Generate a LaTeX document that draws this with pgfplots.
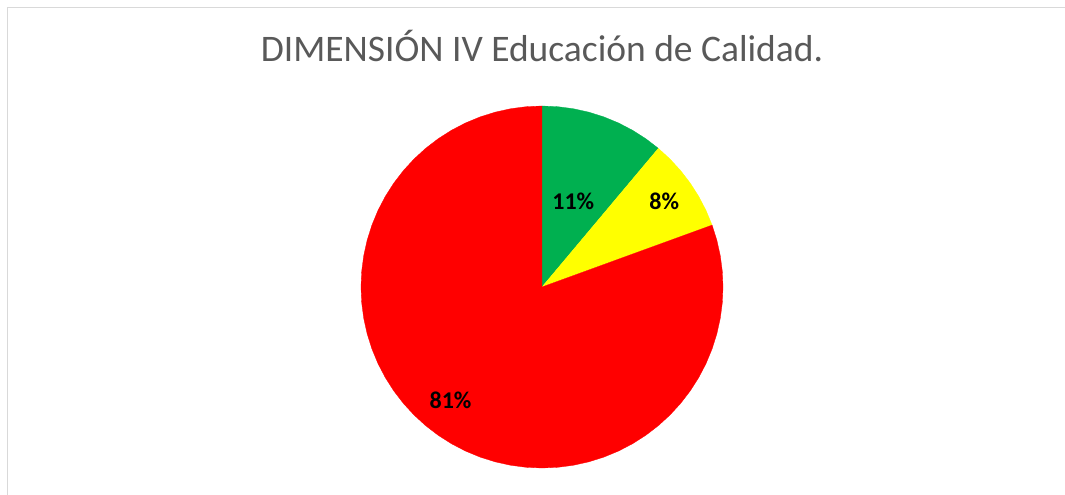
\documentclass[border=0pt]{standalone}
\usepackage{pgfplots}
\pgfplotsset{compat=1.18}
\usepgfplotslibrary{polar}
\usepackage{fontspec}
\setmainfont{Carlito}
\definecolor{cgreen}{HTML}{00B050}
\definecolor{cyellow}{HTML}{FFFF00}
\definecolor{cred}{HTML}{FF0000}
\definecolor{ctitle}{HTML}{595959}
\definecolor{cborder}{HTML}{D9D9D9}
\begin{document}
\begin{tikzpicture}
\path[use as bounding box] (0pt,0pt) rectangle (1065pt,495pt);
\clip (0pt,0pt) rectangle (1065pt,495pt);
\draw[cborder, line width=1.5pt] (7.5pt,-20pt) -- (7.5pt,487.5pt) -- (1090pt,487.5pt);
\begin{polaraxis}[
  at={(542pt,208pt)}, anchor=center,
  width=362pt, height=362pt, scale only axis,
  hide axis, ymin=0, ymax=1, xmin=0, xmax=360,
  clip=false,
]
% green 11% : 90 -> 50
\addplot[fill=cgreen, draw=cgreen, line width=0.3pt] coordinates {
(0,0) (90,1) (85,1) (80,1) (75,1) (70,1) (65,1) (60,1) (55,1) (50,1)};
% yellow 8% : 50 -> 20
\addplot[fill=cyellow, draw=cyellow, line width=0.3pt] coordinates {
(0,0) (50,1) (45,1) (40,1) (35,1) (30,1) (25,1) (20,1)};
% red 81% : 20 -> -270
\addplot[fill=cred, draw=cred, line width=0.3pt] coordinates {
(0,0) (20,1) (15,1) (10,1) (5,1) (0,1) (-5,1) (-10,1) (-15,1) (-20,1) (-25,1) (-30,1)
(-35,1) (-40,1) (-45,1) (-50,1) (-55,1) (-60,1) (-65,1) (-70,1) (-75,1) (-80,1)
(-85,1) (-90,1) (-95,1) (-100,1) (-105,1) (-110,1) (-115,1) (-120,1) (-125,1)
(-130,1) (-135,1) (-140,1) (-145,1) (-150,1) (-155,1) (-160,1) (-165,1) (-170,1)
(-175,1) (-180,1) (-185,1) (-190,1) (-195,1) (-200,1) (-205,1) (-210,1) (-215,1)
(-220,1) (-225,1) (-230,1) (-235,1) (-240,1) (-245,1) (-250,1) (-255,1) (-260,1)
(-265,1) (-270,1)};
\end{polaraxis}
\node[anchor=base, text=ctitle, font=\fontsize{37.5pt}{42pt}\selectfont, inner sep=0pt] at (542pt,433pt) {DIMENSIÓN IV Educación de Calidad.};
\node[anchor=base, font=\fontsize{24pt}{28pt}\selectfont\bfseries, inner sep=0pt] at (573.3pt,285pt) {11\%};
\node[anchor=base, font=\fontsize{24pt}{28pt}\selectfont\bfseries, inner sep=0pt] at (664.3pt,285pt) {8\%};
\node[anchor=base, font=\fontsize{24pt}{28pt}\selectfont\bfseries, inner sep=0pt] at (450.5pt,86.7pt) {81\%};
\end{tikzpicture}
\end{document}
